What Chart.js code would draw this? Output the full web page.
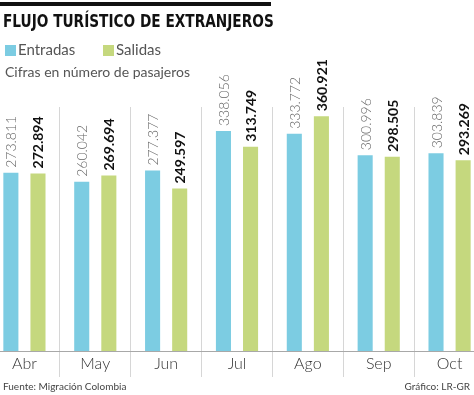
<!DOCTYPE html>
<html>
<head>
<meta charset="utf-8">
<script src="https://cdn.jsdelivr.net/npm/chart.js@4"></script>
<style>
  body { margin: 0; width: 474px; height: 395px; overflow: hidden; background: #fff; position: relative; font-family: Lato, sans-serif; }
  .topbar { position: absolute; left: 0; top: 2px; width: 271px; height: 4px; background: #111; }
  .title { position: absolute; left: 3px; top: 11px; font: bold 17px "Liberation Sans Narrow", "DejaVu Sans Condensed", sans-serif; color: #111; white-space: nowrap; transform: scaleX(0.895); transform-origin: 0 0; }
  .legend { position: absolute; top: 40px; left: 0; font-size: 15px; color: #555; }
  .legend span { position: absolute; white-space: nowrap; }
  .legend i { position: absolute; width: 11px; height: 11px; top: 5px; }
  .sub { position: absolute; left: 5px; top: 63px; font-size: 14px; color: #555; white-space: nowrap; }
  .foot { position: absolute; top: 380px; font-size: 10px; color: #444; white-space: nowrap; }
  #wrap { position: absolute; left: -11px; top: 0; width: 496px; height: 395px; }
</style>
</head>
<body>
<div id="wrap"><canvas id="chartFlujo"></canvas></div>
<div class="topbar"></div>
<div class="title">FLUJO TURÍSTICO DE EXTRANJEROS</div>
<div class="legend">
  <i style="left:5px;background:#7ccce2"></i><span style="left:18px">Entradas</span>
  <i style="left:103px;background:#c5d87e"></i><span style="left:116px">Salidas</span>
</div>
<div class="sub">Cifras en número de pasajeros</div>
<div class="foot" style="left:3px">Fuente: Migración Colombia</div>
<div class="foot" style="right:4px">Gráfico: LR-GR</div>
<script>
const meses = ['Abr', 'May', 'Jun', 'Jul', 'Ago', 'Sep', 'Oct'];
const entradas = [273811, 260042, 277377, 338056, 333772, 300996, 303839];
const salidas = [272894, 269694, 249597, 313749, 360921, 298505, 293269];

const fmt = v => v.toLocaleString('de-DE');

// etiquetas verticales encima de cada barra
const valueLabels = {
  id: 'valueLabels',
  afterDatasetsDraw(chart) {
    const ctx = chart.ctx;
    chart.data.datasets.forEach((ds, i) => {
      const meta = chart.getDatasetMeta(i);
      meta.data.forEach((bar, j) => {
        ctx.save();
        ctx.translate(bar.x, bar.y - 5);
        ctx.rotate(-Math.PI / 2);
        ctx.font = i === 0 ? '300 14px Lato' : 'bold 14px Lato';
        ctx.fillStyle = i === 0 ? '#666' : '#111';
        ctx.textAlign = 'left';
        ctx.textBaseline = 'middle';
        ctx.fillText(fmt(ds.data[j]), 0, 1);
        ctx.restore();
      });
    });
  }
};

new Chart(document.getElementById('chartFlujo'), {
  type: 'bar',
  data: {
    labels: meses,
    datasets: [
      { label: 'Entradas', data: entradas, backgroundColor: '#7ccce2' },
      { label: 'Salidas', data: salidas, backgroundColor: '#c5d87e' }
    ]
  },
  options: {
    responsive: true,
    maintainAspectRatio: false,
    animation: false,
    layout: { padding: { top: 107, left: 0, right: 0, bottom: 0 } },
    datasets: { bar: { categoryPercentage: 0.765, barPercentage: 0.556 } },
    plugins: { legend: { display: false }, tooltip: { enabled: false } },
    scales: {
      x: {
        grid: { offset: true, color: '#d6d6d6', lineWidth: 1, tickLength: 26 },
        border: { color: '#a8a8a8', width: 1 },
        ticks: { color: '#333', font: { family: 'Lato', size: 16, weight: '300' }, padding: -23 },
        afterFit(scale) { scale.height = 44; }
      },
      y: { display: false, min: 0, max: 375000 }
    }
  },
  plugins: [valueLabels]
});
</script>
</body>
</html>
